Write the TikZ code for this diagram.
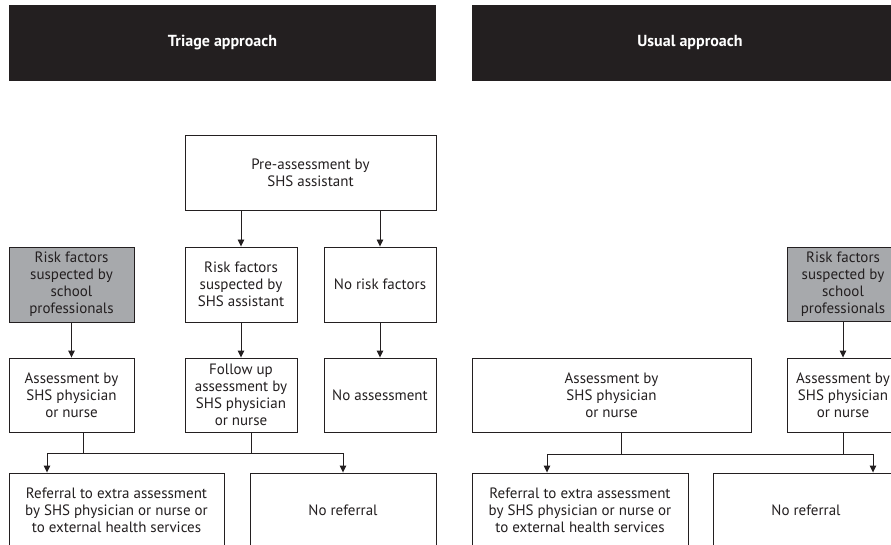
\documentclass[tikz,border=0pt]{standalone}
\usepackage{fontspec}
\setmainfont{PT Sans}
\usetikzlibrary{arrows.meta,calc}
\definecolor{ink}{RGB}{35,31,32}
\definecolor{grayfill}{RGB}{167,169,172}
\begin{document}
\begin{tikzpicture}[x=1pt,y=-1pt,
  box/.style={draw=ink,line width=0.9pt,fill=white,inner sep=0pt,align=center,
    font=\fontsize{15}{17}\selectfont,text=ink},
  gbox/.style={box,fill=grayfill},
  hdr/.style={fill=ink,inner sep=0pt,text=white,font=\fontsize{16}{18}\selectfont\bfseries},
  arr/.style={draw=ink,line width=0.9pt,-{Triangle[width=6.5pt,length=7pt]}},
  ln/.style={draw=ink,line width=0.9pt}]
\useasboundingbox (0,0) rectangle (891,545);
\clip (0,0) rectangle (891,545);
% headers
\node[hdr,minimum width=427pt,minimum height=76pt] (h1) at (222.5,43) {Triage approach};
\node[hdr,minimum width=436pt,minimum height=76pt] (h2) at (690,43) {Usual approach};
% left panel
\node[box,minimum width=251pt,minimum height=75pt] (pre) at (310.5,172.5) {Pre-assessment by\\SHS assistant};
\node[gbox,minimum width=125pt,minimum height=75pt] (g1) at (71.5,284.5) {Risk factors\\suspected by\\school\\professionals};
\node[box,minimum width=112pt,minimum height=75pt] (rfs) at (241,284.5) {Risk factors\\suspected by\\SHS assistant};
\node[box,minimum width=112pt,minimum height=75pt] (nrf) at (380,284.5) {No risk factors};
\node[box,minimum width=125pt,minimum height=74pt] (ass1) at (71.5,395) {Assessment by\\SHS physician\\or nurse};
\node[box,minimum width=112pt,minimum height=74pt] (fu) at (241,395) {Follow up\\assessment by\\SHS physician\\or nurse};
\node[box,minimum width=112pt,minimum height=74pt] (na) at (380,395) {No assessment};
\node[box,minimum width=215pt,minimum height=74pt] (ref1) at (116.5,510) {Referral to extra assessment\\by SHS physician or nurse or\\to external health services};
\node[box,minimum width=186pt,minimum height=74pt] (nref1) at (343,510) {No referral};
% right panel
\node[gbox,minimum width=112pt,minimum height=74pt] (g2) at (843,284.5) {Risk factors\\suspected by\\school\\professionals};
\node[box,minimum width=279pt,minimum height=74pt] (ass2) at (611.5,395) {Assessment by\\SHS physician\\or nurse};
\node[box,minimum width=112pt,minimum height=74pt] (ass3) at (843,395) {Assessment by\\SHS physician\\or nurse};
\node[box,minimum width=216pt,minimum height=74pt] (ref2) at (580,510) {Referral to extra assessment\\by SHS physician or nurse or\\to external health services};
\node[box,minimum width=186pt,minimum height=74pt] (nref2) at (806,510) {No referral};
% left connectors
\draw[arr] (pre.south -| rfs.north) -- (rfs.north);
\draw[arr] (pre.south -| nrf.north) -- (nrf.north);
\draw[arr] (g1) -- (ass1);
\draw[arr] (rfs) -- (fu);
\draw[arr] (nrf) -- (na);
\coordinate (b1) at (83,453);
\coordinate (b2) at (251,453);
\coordinate (bl) at (47,453);
\coordinate (br) at (343,453);
\draw[ln] (ass1.south -| b1) -- (b1);
\draw[ln] (fu.south -| b2) -- (b2);
\draw[arr] (br) -- (bl) -- (bl |- ref1.north);
\draw[arr] (br) -- (br |- nref1.north);
% right connectors
\draw[arr] (g2) -- (ass3);
\coordinate (c1) at (621,454);
\coordinate (cl) at (547,454);
\coordinate (cr) at (873,454);
\draw[ln] (ass2.south -| c1) -- (c1);
\draw[ln] (ass3.south) -- (ass3.south |- cr);
\draw[arr] (cr) -- (cl) -- (cl |- ref2.north);
\draw[arr] (cr) -- (cr |- nref2.north);
\end{tikzpicture}
\end{document}
